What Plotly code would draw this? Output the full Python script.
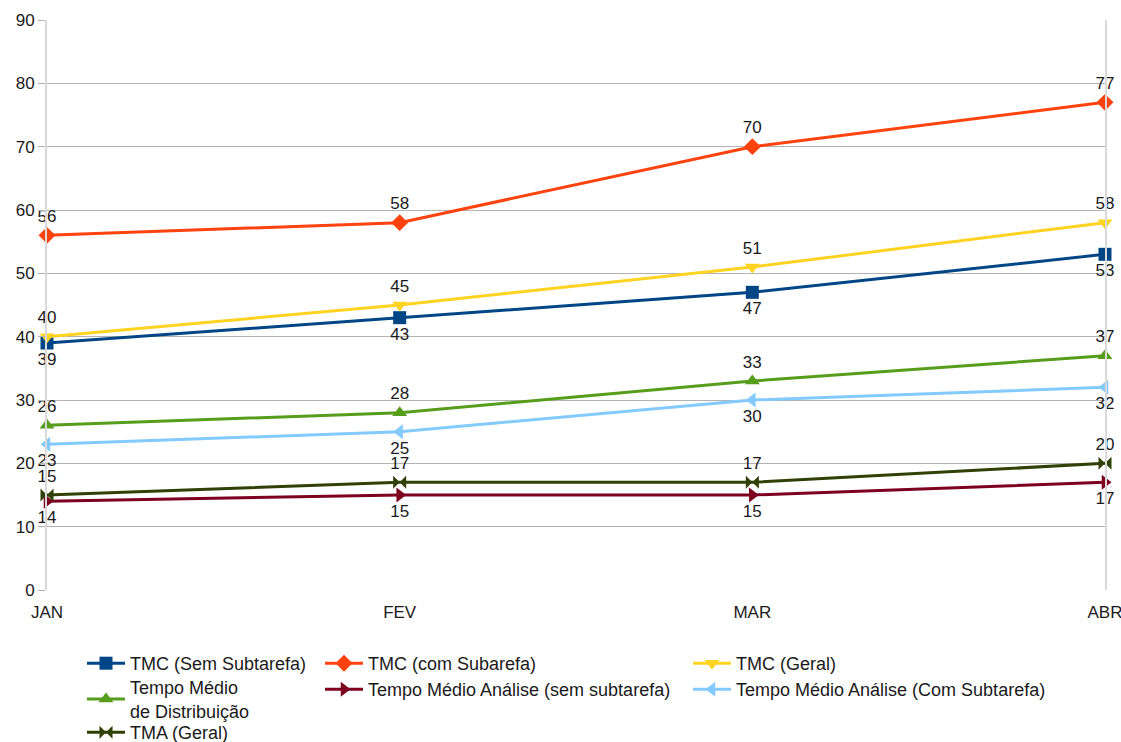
import plotly.graph_objects as go

meses = ["JAN", "FEV", "MAR", "ABR"]

tmc_sem_subtarefa = [39, 43, 47, 53]
tmc_com_subarefa = [56, 58, 70, 77]
tmc_geral = [40, 45, 51, 58]
tempo_distribuicao = [26, 28, 33, 37]
analise_sem_subtarefa = [14, 15, 15, 17]
analise_com_subtarefa = [23, 25, 30, 32]
tma_geral = [15, 17, 17, 20]

FONT = "Liberation Sans, Arial, sans-serif"
TXT = "#1a1a1a"
FS = 17

W, H = 1121, 742

# legend column x (px) and top y (px) for each series
series = [
    # name, values, color, symbol, label position, legend x, legend y
    ("TMC (Sem Subtarefa)", tmc_sem_subtarefa, "#004586", "square", "bottom center", 82, 645),
    ("TMC (com Subarefa)", tmc_com_subarefa, "#ff420e", "diamond", "top center", 320, 645),
    ("TMC (Geral)", tmc_geral, "#ffd320", "triangle-down", "top center", 688, 645),
    ("Tempo Médio<br>de Distribuição", tempo_distribuicao, "#579d1c", "triangle-up", "top center", 82, 669),
    ("Tempo Médio Análise (sem subtarefa)", analise_sem_subtarefa, "#7e0021", "triangle-right", "bottom center", 320, 671),
    ("Tempo Médio Análise (Com Subtarefa)", analise_com_subtarefa, "#83caff", "triangle-left", "bottom center", 688, 671),
    ("TMA (Geral)", tma_geral, "#314004", "bowtie", "top center", 82, 714),
]

leg_common = dict(
    orientation="v", xref="container", yref="container",
    xanchor="left", yanchor="top", bgcolor="rgba(0,0,0,0)",
    font=dict(family=FONT, size=18, color=TXT), itemwidth=38,
)

fig = go.Figure()
legends = {}
for i, (name, vals, color, symbol, tpos, lx, ly) in enumerate(series):
    leg_id = "legend" if i == 0 else f"legend{i + 1}"
    fig.add_trace(go.Scatter(
        x=meses, y=vals, name=name, mode="lines+markers+text",
        line=dict(color=color, width=3),
        marker=dict(color=color, symbol=symbol, size=13),
        text=[str(v) for v in vals], textposition=tpos,
        textfont=dict(family=FONT, size=FS, color=TXT),
        cliponaxis=False, legend=leg_id, showlegend=True,
    ))
    legends[leg_id] = dict(x=lx / W, y=1 - ly / H, **leg_common)

fig.update_layout(
    width=W, height=H, showlegend=True,
    margin=dict(l=47, r=16, t=20, b=152, autoexpand=False),
    paper_bgcolor="white", plot_bgcolor="white",
    font=dict(family=FONT, size=FS, color=TXT),
    xaxis=dict(
        type="category", range=[0, 3], showgrid=False, showline=False, zeroline=False,
        ticks="", ticklabelstandoff=10,
        tickfont=dict(family=FONT, size=FS, color=TXT),
    ),
    yaxis=dict(
        range=[0, 90], dtick=10, showgrid=True, gridcolor="#b3b3b3", gridwidth=1,
        showline=True, mirror=True, linecolor="#d9d9d9", linewidth=2,
        zeroline=False, ticks="outside", ticklen=7, tickcolor="#b3b3b3",
        tickfont=dict(family=FONT, size=FS, color=TXT),
    ),
    **legends,
)

fig.write_html("out.html")
